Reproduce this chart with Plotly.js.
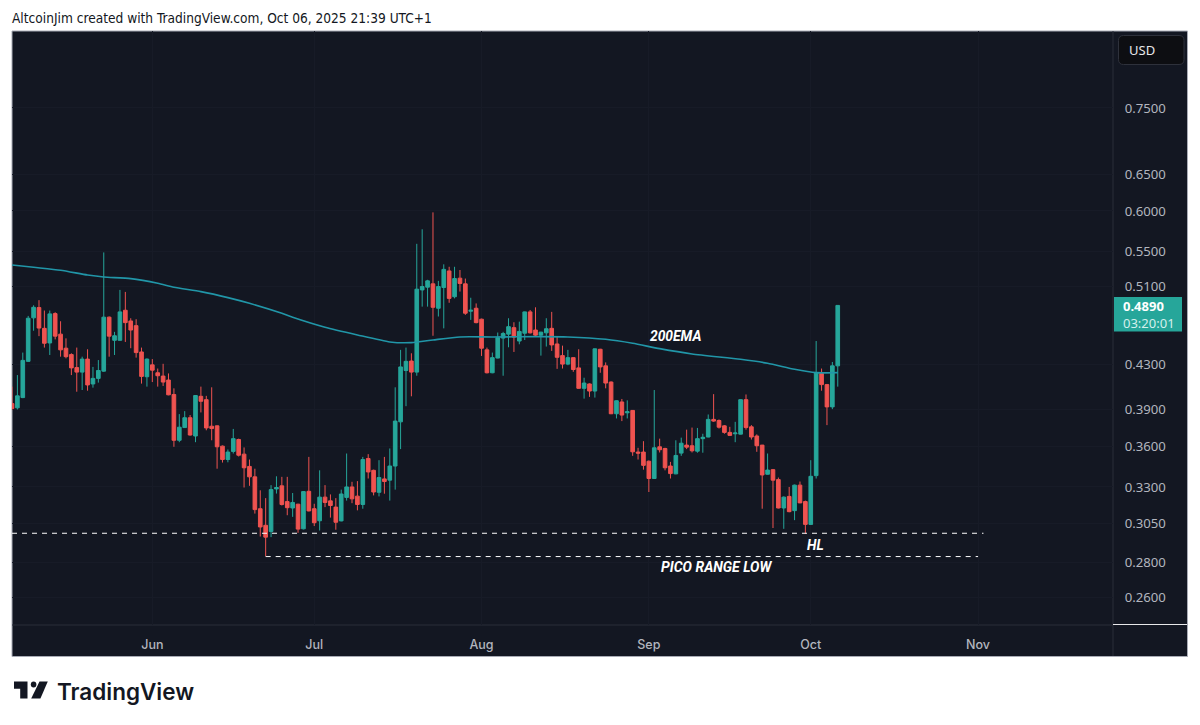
<!DOCTYPE html>
<html>
<head>
<meta charset="utf-8">
<script src="https://cdn.plot.ly/plotly-3.0.1.min.js"></script>
<style>html,body{margin:0;padding:0;background:#fff}#chart{width:1200px;height:725px}</style>
</head>
<body>
<div id="chart"></div>
<script>
const firstDay = '2025-05-06';
const opens = [.3953,.3917,.4005,.4332,.4760,.4867,.4653,.4508,.4804,.4595,.4457,.4396,.4274,.4232,.4353,.4125,.4175,.4241,.4767,.4534,.4534,.4839,.4728,.4680,.4421,.4190,.4299,.4226,.4196,.4160,.4032,.3651,.3753,.3834,.3685,.4016,.3987,.3764,.3767,.3605,.3502,.3564,.3657,.3543,.3450,.3373,.3148,.3037,.2997,.3286,.3308,.3197,.3153,.3179,.3014,.3269,.3148,.3067,.3228,.3202,.3159,.3066,.3226,.3300,.3235,.3177,.3510,.3421,.3262,.3358,.3349,.3453,.3800,.4247,.4335,.4232,.5057,.5087,.5124,.4860,.5083,.5269,.4983,.5187,.5124,.4829,.4860,.4746,.4441,.4226,.4363,.4556,.4595,.4660,.4527,.4604,.4822,.4636,.4585,.4608,.4653,.4498,.4386,.4306,.4367,.4271,.4086,.4125,.4062,.4447,.4290,.4142,.3867,.3967,.3875,.3895,.3559,.3559,.3489,.3361,.3600,.3587,.3453,.3395,.3551,.3613,.3608,.3566,.3664,.3677,.3820,.3811,.3767,.3714,.3703,.3700,.3987,.3759,.3685,.3613,.3392,.3426,.3353,.3153,.3233,.3135,.3313,.3197,.3043,.3382,.4220,.4119,.3925,.4290];
const highs = [.4101,.4205,.4415,.4780,.4891,.4946,.4836,.4836,.4818,.4725,.4553,.4408,.4463,.4376,.4447,.4280,.4344,.5485,.4774,.4618,.5057,.5035,.4756,.4746,.4463,.4360,.4353,.4265,.4309,.4220,.4086,.3864,.3889,.3856,.4026,.4101,.4020,.4095,.3770,.3610,.3579,.3742,.3664,.3595,.3502,.3433,.3276,.3221,.3313,.3377,.3373,.3373,.3257,.3182,.3270,.3522,.3182,.3421,.3313,.3247,.3221,.3281,.3548,.3337,.3342,.3522,.3543,.3426,.3497,.3522,.3587,.4095,.4441,.4463,.4408,.5588,.5767,.5169,.5982,.5157,.5345,.5317,.5317,.5280,.5183,.4972,.4911,.4752,.4463,.4415,.4611,.4618,.4756,.4715,.4721,.4825,.4842,.4870,.4618,.4756,.4822,.4569,.4482,.4441,.4370,.4447,.4181,.4130,.4454,.4451,.4322,.4148,.3981,.3993,.3981,.3898,.3592,.3644,.3495,.4071,.3664,.3592,.3484,.3651,.3672,.3736,.3753,.3750,.3703,.3861,.4035,.3820,.3773,.3759,.3800,.3990,.4032,.3773,.3698,.3615,.3548,.3431,.3368,.3233,.3300,.3317,.3339,.3204,.3497,.4527,.4265,.4125,.4326,.4890];
const lows = [.3898,.3903,.4000,.4326,.4629,.4575,.4463,.4392,.4543,.4376,.4360,.4205,.4056,.4071,.4065,.4092,.4137,.4235,.4376,.4392,.4530,.4518,.4457,.4367,.4128,.4101,.4142,.4101,.4107,.4025,.3600,.3636,.3750,.3688,.3636,.3878,.3731,.3651,.3433,.3479,.3481,.3548,.3525,.3296,.3308,.3115,.2964,.2840,.2960,.3253,.3170,.3104,.3093,.2988,.3010,.3130,.3032,.3003,.3159,.3088,.3008,.3063,.3204,.3186,.3137,.3148,.3361,.3240,.3233,.3252,.3204,.3281,.3582,.3931,.4016,.4199,.4877,.4877,.4579,.4774,.4653,.4918,.4965,.5039,.4791,.4739,.4704,.4383,.4220,.4222,.4360,.4199,.4466,.4421,.4495,.4537,.4601,.4569,.4386,.4473,.4431,.4262,.4265,.4296,.4235,.4083,.3996,.4011,.4005,.4226,.4086,.3864,.3828,.3806,.3828,.3530,.3502,.3426,.3264,.3358,.3556,.3421,.3361,.3392,.3530,.3582,.3556,.3554,.3554,.3675,.3800,.3745,.3703,.3688,.3636,.3698,.3736,.3657,.3561,.3148,.3390,.3019,.3150,.3014,.3124,.3071,.3186,.2981,.3040,.3361,.4065,.3773,.3906,.4101];
const closes = [.3911,.4020,.4341,.4756,.4870,.4656,.4505,.4801,.4575,.4441,.4376,.4271,.4232,.4353,.4116,.4175,.4247,.4767,.4575,.4579,.4822,.4711,.4636,.4415,.4193,.4353,.4250,.4199,.4142,.4029,.3651,.3756,.3834,.3693,.4023,.3973,.3750,.3745,.3600,.3502,.3559,.3664,.3535,.3440,.3373,.3142,.3026,.2960,.3281,.3296,.3177,.3155,.3191,.3012,.3267,.3133,.3054,.3228,.3191,.3170,.3057,.3250,.3300,.3216,.3177,.3502,.3409,.3264,.3368,.3339,.3453,.3806,.4280,.4332,.4232,.5065,.5094,.5157,.4870,.5094,.5287,.4965,.5183,.5128,.4808,.4839,.4711,.4457,.4226,.4367,.4559,.4601,.4670,.4566,.4622,.4822,.4608,.4585,.4615,.4649,.4489,.4370,.4306,.4367,.4256,.4086,.4133,.4062,.4451,.4280,.4133,.3867,.3978,.3856,.3884,.3561,.3551,.3458,.3361,.3592,.3577,.3440,.3397,.3533,.3628,.3597,.3569,.3664,.3675,.3820,.3806,.3756,.3714,.3690,.3709,.3987,.3753,.3677,.3608,.3387,.3423,.3349,.3153,.3228,.3128,.3313,.3188,.3043,.3377,.4226,.4119,.3925,.4290,.4890];

const emaDates = ['2025-05-06','2025-05-10','2025-05-15','2025-05-20','2025-05-23','2025-05-28','2025-06-02','2025-06-05','2025-06-10','2025-06-15','2025-06-19','2025-06-25','2025-06-27','2025-07-03','2025-07-09','2025-07-15','2025-07-19','2025-07-23','2025-07-28','2025-08-03','2025-08-12','2025-08-17','2025-08-24','2025-08-29','2025-09-03','2025-09-09','2025-09-18','2025-09-23','2025-09-28','2025-10-02','2025-10-06'];
const emaValues = [.5338,.5311,.5277,.5223,.5201,.5182,.5130,.5086,.5038,.4973,.4912,.4807,.4766,.4664,.4587,.4518,.4511,.4537,.4567,.4567,.4570,.4567,.4544,.4505,.4453,.4402,.4351,.4314,.4258,.4227,.4227];

const hlDates = ['2025-05-06','2025-11-02'];
const hlLevels = [.2985,.2985];
const picoDates = ['2025-06-22','2025-11-01'];
const picoLevels = [.2838,.2838];

const priceTicks = [.26,.28,.305,.33,.36,.39,.43,.51,.55,.60,.65,.75];
const priceTickText = ['0.2600','0.2800','0.3050','0.3300','0.3600','0.3900','0.4300','0.5100','0.5500','0.6000','0.6500','0.7500'];
const monthTicks = ['2025-06-01','2025-07-01','2025-08-01','2025-09-01','2025-10-01','2025-11-01'];
const monthText = ['Jun','Jul','Aug','Sep','Oct','Nov'];
const xRange = ['2025-05-06','2025-11-26'];
const yRange = [.2447,.8861];

const dates = opens.map((_, i) => {
  const d = new Date(firstDay + 'T00:00:00Z');
  d.setUTCDate(d.getUTCDate() + i);
  return d.toISOString().slice(0, 10);
});

const UP = '#26a69a', DOWN = '#ef5350', BG = '#131722', PANEL = '#2a2e39', AXIS = '#b2b5be';
const L = 12, T = 31, W = 1101, H = 594;
const px = x => (x - L) / W;
const py = y => 1 - (y - T) / H;
const rect = (x0, y0, x1, y1, extra) => Object.assign({type:'rect', xref:'paper', yref:'paper', x0:px(x0), x1:px(x1), y0:py(y0), y1:py(y1)}, extra);
const seg = (x0, y0, x1, y1, color, layer) => ({type:'line', xref:'paper', yref:'paper', x0:px(x0), x1:px(x1), y0:py(y0), y1:py(y1), line:{color, width:1}, layer:layer||'below'});
const poly = (pts, color) => ({type:'path', xref:'paper', yref:'paper', layer:'above', fillcolor:color, line:{width:0},
  path:'M' + pts.map(p => px(p[0]) + ',' + py(p[1])).join('L') + 'Z'});
const note = (x, y, text, size, color, family, anchor, weight) => ({xref:'paper', yref:'paper', x:px(x), y:py(y), text, showarrow:false,
  xanchor:anchor||'left', yanchor:'middle', borderpad:0, font:{size, color, family, weight:weight||'normal'}});

const traces = [
  {type:'candlestick', x:dates, open:opens, high:highs, low:lows, close:closes, hoverinfo:'skip', whiskerwidth:0,
   increasing:{line:{color:UP, width:1}, fillcolor:UP},
   decreasing:{line:{color:DOWN, width:1}, fillcolor:DOWN}},
  {type:'scatter', mode:'lines', x:hlDates, y:hlLevels, hoverinfo:'skip', line:{color:'#ffffff', width:1, dash:'5px,5px'}},
  {type:'scatter', mode:'lines', x:picoDates, y:picoLevels, hoverinfo:'skip', line:{color:'#ffffff', width:1, dash:'5px,5px'}},
  {type:'scatter', mode:'lines', x:emaDates, y:emaValues, hoverinfo:'skip', line:{color:'#2196a8', width:1.6, shape:'spline', smoothing:0.6}}
];

const layout = {
  width:1200, height:725, showlegend:false, boxgap:0.25, boxgroupgap:0.1,
  margin:{l:L, r:1200-L-W, t:T, b:725-T-H, pad:0},
  paper_bgcolor:'#ffffff', plot_bgcolor:BG,
  font:{family:'"Noto Sans", sans-serif', color:AXIS, size:12},
  xaxis:{type:'date', range:xRange, tickmode:'array', tickvals:monthTicks, ticktext:monthText,
    rangeslider:{visible:false}, showline:false, zeroline:false, showgrid:true, gridcolor:'#171b27', gridwidth:1,
    ticks:'outside', ticklen:8, tickcolor:'rgba(0,0,0,0)', tickfont:{size:12.5, color:AXIS, family:'Inter, sans-serif', weight:500}},
  yaxis:{type:'log', side:'right', range:yRange.map(Math.log10), tickmode:'array', tickvals:priceTicks, ticktext:priceTickText,
    showline:false, zeroline:false, showgrid:true, gridcolor:'#171b27', gridwidth:1,
    ticks:'outside', ticklen:8, tickcolor:'rgba(0,0,0,0)', tickfont:{size:13.2, color:AXIS, family:'"Noto Sans", sans-serif'}},
  shapes:[
    rect(12,31,1187.5,656.5,{fillcolor:BG, line:{color:'#a8abb5', width:1}, layer:'below'}),
    seg(1113,31,1113,656,PANEL),
    seg(12,625,1113,625,PANEL),
    seg(1113,624.5,1187,624.5,'#e8e8ea','above'),
    rect(1114,297,1182,331.5,{fillcolor:UP, line:{width:0}, layer:'above'}),
    {type:'path', xref:'paper', yref:'paper', layer:'above', fillcolor:'#0d0e12', line:{color:'#2e313b', width:1},
     path:(function(){const x0=1118.5,x1=1184,y0=35.5,y1=64.5,r=5;
       return 'M'+px(x0+r)+','+py(y0)+'L'+px(x1-r)+','+py(y0)+'Q'+px(x1)+','+py(y0)+' '+px(x1)+','+py(y0+r)+'L'+px(x1)+','+py(y1-r)+'Q'+px(x1)+','+py(y1)+' '+px(x1-r)+','+py(y1)+'L'+px(x0+r)+','+py(y1)+'Q'+px(x0)+','+py(y1)+' '+px(x0)+','+py(y1-r)+'L'+px(x0)+','+py(y0+r)+'Q'+px(x0)+','+py(y0)+' '+px(x0+r)+','+py(y0)+'Z';})()},
    poly([[14,681.5],[27.5,681.5],[27.5,698.5],[20.2,698.5],[20.2,688.7],[14,688.7]],'#131722'),
    {type:'circle', xref:'paper', yref:'paper', layer:'above', fillcolor:'#131722', line:{width:0}, x0:px(30.8), x1:px(36.4), y0:py(681.5), y1:py(687.5)},
    poly([[39.5,681.5],[47.8,681.5],[40.4,698.5],[31.2,698.5]],'#131722')
  ],
  annotations:[
    note(11,17.5,'AltcoinJim created with TradingView.com, Oct 06, 2025 21:39 UTC+1',13.6,'#131722','"DejaVu Sans Condensed","DejaVu Sans",sans-serif'),
    note(1128,49.5,'USD',13,'#e8e8ea','"Noto Sans", sans-serif'),
    note(1122,306,'<b>0.4890</b>',13,'#ffffff','"Noto Sans", sans-serif'),
    note(1122,323,'03:20:01',13,'#d4efec','"Noto Sans", sans-serif'),
    note(649,336,'<b><i>200EMA</i></b>',13.8,'#ffffff','Roboto, sans-serif'),
    note(805.5,544.5,'<b><i>HL</i></b>',13.8,'#ffffff','Roboto, sans-serif'),
    note(660,566.5,'<b><i>PICO RANGE LOW</i></b>',14,'#ffffff','Roboto, sans-serif'),
    note(56,691.5,'TradingView',22.5,'#131722','Inter, sans-serif','left',600)
  ]
};

Plotly.newPlot('chart', traces, layout, {displayModeBar:false, staticPlot:true});
</script>
</body>
</html>
